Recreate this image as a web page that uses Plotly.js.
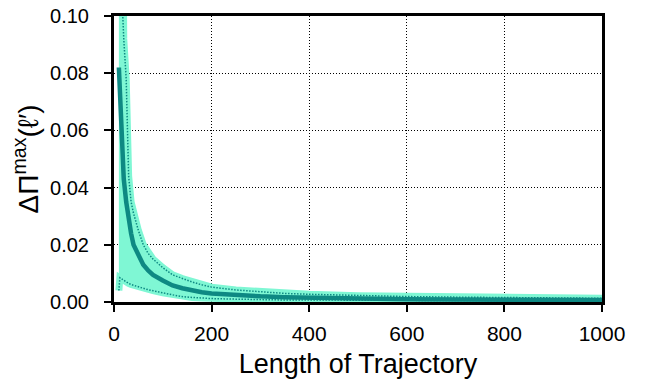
<!DOCTYPE html>
<html>
<head>
<meta charset="utf-8">
<script src="https://cdn.plot.ly/plotly-3.0.1.min.js"></script>
<style>html,body{margin:0;padding:0;background:#fff;}#chart{width:649px;height:379px;}</style>
</head>
<body>
<div id="chart"></div>
<script>
// Trajectory lengths (x) and read-off values
const lengths = [10, 12, 15, 18, 20, 25, 30, 35, 40, 50, 60, 70, 80, 100, 120, 140, 160, 180, 200, 250, 300, 350, 400, 500, 600, 700, 800, 900, 1000];
const meanVals = [0.082, 0.072, 0.058, 0.048, 0.043, 0.035, 0.028, 0.024, 0.020, 0.016, 0.013, 0.011, 0.0095, 0.0075, 0.0058, 0.0048, 0.0040, 0.0034, 0.0030, 0.0024, 0.0020, 0.0017, 0.0015, 0.0012, 0.0010, 0.0009, 0.0008, 0.0007, 0.0007];
const upperVals = [0.30, 0.25, 0.15, 0.10, 0.092, 0.078, 0.044, 0.035, 0.031, 0.025, 0.020, 0.017, 0.015, 0.012, 0.0095, 0.0082, 0.0070, 0.0060, 0.0052, 0.0042, 0.0035, 0.0030, 0.0027, 0.0022, 0.0019, 0.0017, 0.0015, 0.0014, 0.0013];
const lowerVals = [0.004, 0.0085, 0.0082, 0.0078, 0.0075, 0.0070, 0.0065, 0.0061, 0.0058, 0.0052, 0.0048, 0.0043, 0.0040, 0.0032, 0.0025, 0.0019, 0.0016, 0.0014, 0.0012, 0.0010, 0.0008, 0.0007, 0.0007, 0.0006, 0.0005, 0.0005, 0.0004, 0.0004, 0.0004];
const xTicks = [0, 200, 400, 600, 800, 1000];
const yTicks = [0, 0.02, 0.04, 0.06, 0.08, 0.10];

const bandColor = 'rgb(127,247,212)';
const lineColor = '#0e8983';

const traces = [
  {x: lengths, y: lowerVals, mode: 'lines', line: {color: bandColor, width: 7}, hoverinfo: 'skip', showlegend: false},
  {x: lengths, y: upperVals, mode: 'lines', line: {color: bandColor, width: 7}, fill: 'tonexty', fillcolor: bandColor, hoverinfo: 'skip', showlegend: false},
  {x: lengths, y: upperVals, mode: 'lines', line: {color: lineColor, width: 1.5, dash: '1.5px,1.5px'}, showlegend: false},
  {x: lengths, y: lowerVals, mode: 'lines', line: {color: lineColor, width: 1.5, dash: '1.5px,1.5px'}, showlegend: false},
  {x: lengths, y: meanVals, mode: 'lines', line: {color: lineColor, width: 4.5}, showlegend: false}
];

const fontFam = 'Liberation Sans, Arial, sans-serif';
const layout = {
  width: 649, height: 379,
  margin: {l: 114, r: 47, t: 16, b: 77},
  paper_bgcolor: '#fff', plot_bgcolor: '#fff',
  font: {family: fontFam, color: '#000', size: 16},
  xaxis: {
    range: [0, 1000], tickvals: xTicks, ticktext: xTicks.map(String),
    showgrid: true, gridcolor: '#000', gridwidth: 1, griddash: '1px,2px',
    showline: true, linecolor: '#000', linewidth: 3, mirror: true,
    ticks: 'outside', ticklen: 7, tickwidth: 2, tickcolor: '#000',
    zeroline: false, tickfont: {size: 21}, ticklabelstandoff: 4,
    title: {text: 'Length of Trajectory', font: {size: 27}, standoff: 11}
  },
  yaxis: {
    range: [0, 0.1], tickvals: yTicks, ticktext: yTicks.map(v => v.toFixed(2)),
    showgrid: true, gridcolor: '#000', gridwidth: 1, griddash: '1px,2px',
    showline: true, linecolor: '#000', linewidth: 3, mirror: true,
    ticks: 'outside', ticklen: 7, tickwidth: 2, tickcolor: '#000',
    zeroline: false, tickfont: {size: 20}, ticklabelstandoff: 11,
    title: {text: 'ΔΠ<sup>max</sup>(ℓ′)', font: {size: 28}, standoff: 4}
  }
};
Plotly.newPlot('chart', traces, layout, {staticPlot: true});
</script>
</body>
</html>
